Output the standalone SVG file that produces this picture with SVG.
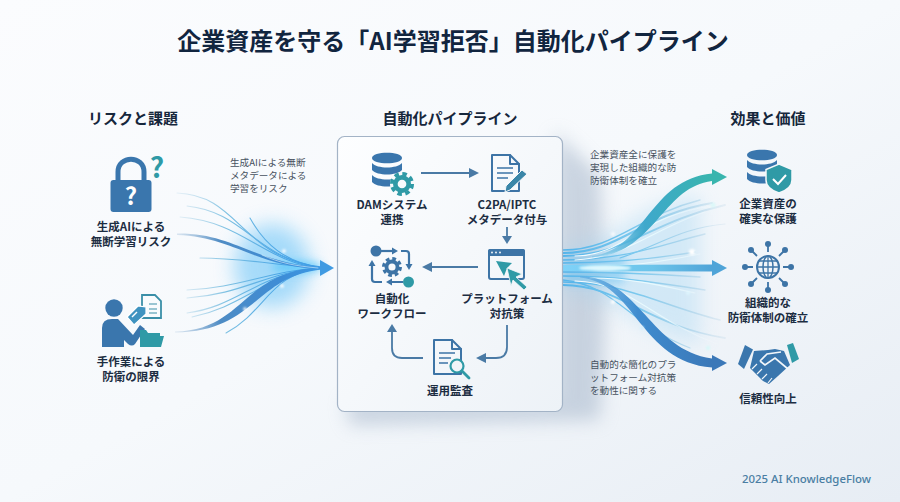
<svg xmlns="http://www.w3.org/2000/svg" width="900" height="502" viewBox="0 0 900 502">
<style>
text{font-family:"Noto Sans CJK JP","Noto Sans",sans-serif}
.t{font-size:24px;font-weight:700;fill:#11253f;text-anchor:middle}
.h{font-size:15px;font-weight:700;fill:#16273c;text-anchor:middle}
.l{font-size:11.5px;font-weight:700;fill:#1c2d42;text-anchor:middle}
.c{font-size:9.6px;font-weight:400;fill:#47525f}
.f{font-size:11.4px;fill:#4a7ea3;text-anchor:end;font-family:"Noto Sans","Open Sans",sans-serif;font-weight:500}
.b{fill:#3a76ad}.g{fill:#2f9aa6}
.ol{fill:none;stroke:#3d74a6;stroke-width:2;stroke-linejoin:round;stroke-linecap:round}
.a{fill:none;stroke:#4a7aa5;stroke-width:1.8}
.a2{fill:none;stroke:#3d74a6;stroke-width:2.200}
.ah{fill:#4a7aa5}
.s{fill:none;stroke-linecap:round}
</style>
<defs>
<linearGradient id="bg" x1="0" y1="0" x2="1" y2="1"><stop offset="0" stop-color="#fbfcfe"/><stop offset=".5" stop-color="#f6f9fc"/><stop offset="1" stop-color="#e7edf4"/></linearGradient>
<linearGradient id="pn" x1="0" y1="0" x2="1" y2="1"><stop offset="0" stop-color="#fdfeff"/><stop offset="1" stop-color="#edf2f7"/></linearGradient>
<linearGradient id="ls" gradientUnits="userSpaceOnUse" x1="175" y1="0" x2="325" y2="0"><stop offset="0" stop-color="#a8cfe4" stop-opacity=".2"/><stop offset=".35" stop-color="#7cc0e2"/><stop offset=".7" stop-color="#4ba6e6"/><stop offset="1" stop-color="#3c9ae6"/></linearGradient>
<linearGradient id="ld" gradientUnits="userSpaceOnUse" x1="175" y1="0" x2="325" y2="0"><stop offset="0" stop-color="#7da6cc" stop-opacity=".2"/><stop offset=".3" stop-color="#4f8cc4"/><stop offset=".7" stop-color="#3d8cd6"/><stop offset="1" stop-color="#3c9ae6"/></linearGradient>
<linearGradient id="rs" gradientUnits="userSpaceOnUse" x1="563" y1="0" x2="730" y2="0"><stop offset="0" stop-color="#54b4ea"/><stop offset=".45" stop-color="#7cc9ee"/><stop offset="1" stop-color="#a8c8de" stop-opacity=".15"/></linearGradient>
<linearGradient id="rw" gradientUnits="userSpaceOnUse" x1="563" y1="0" x2="720" y2="0"><stop offset="0" stop-color="#fff" stop-opacity=".95"/><stop offset=".6" stop-color="#e8fbff" stop-opacity=".9"/><stop offset="1" stop-color="#fff" stop-opacity="0"/></linearGradient>
<linearGradient id="rt" gradientUnits="userSpaceOnUse" x1="590" y1="0" x2="712" y2="0"><stop offset="0" stop-color="#6cc0ec" stop-opacity=".4"/><stop offset=".45" stop-color="#3fa8cc"/><stop offset="1" stop-color="#38b5ae"/></linearGradient>
<linearGradient id="rm" gradientUnits="userSpaceOnUse" x1="563" y1="0" x2="712" y2="0"><stop offset="0" stop-color="#7fd2f8"/><stop offset=".6" stop-color="#6cc4ea"/><stop offset="1" stop-color="#4fa4d8"/></linearGradient>
<linearGradient id="rb" gradientUnits="userSpaceOnUse" x1="563" y1="0" x2="712" y2="0"><stop offset="0" stop-color="#6db9ea" stop-opacity=".6"/><stop offset=".5" stop-color="#3f8ccf"/><stop offset="1" stop-color="#3b78b8"/></linearGradient>
<filter id="b12" x="-60%" y="-60%" width="220%" height="220%"><feGaussianBlur stdDeviation="10"/></filter>
<filter id="b5" x="-30%" y="-100%" width="160%" height="300%"><feGaussianBlur stdDeviation="4"/></filter>
<filter id="b1" x="-200%" y="-200%" width="500%" height="500%"><feGaussianBlur stdDeviation="1.300"/></filter>
<filter id="sh" x="-20%" y="-20%" width="140%" height="140%"><feGaussianBlur stdDeviation="9"/></filter>
<g id="gear"><circle r="4.6" fill="none" stroke="currentColor" stroke-width="3.2"/><circle r="7" fill="none" stroke="currentColor" stroke-width="2.6" stroke-dasharray="3.1 2.4"/></g>
<g id="db"><path class="b" d="M-15-12C-15-19 15-19 15-12C15-5-15-5-15-12Z"/><path class="b" d="M-15-7C-10-1 10-1 15-7V0C10 6-10 6-15 0Z"/><path class="b" d="M-15 5C-10 11 10 11 15 5V12C10 18-10 18-15 12Z"/></g>
</defs>
<rect width="900" height="502" fill="url(#bg)"/>
<text class="t" x="453" y="50">企業資産を守る「AI学習拒否」自動化パイプライン</text>
<text class="h" x="133" y="124">リスクと課題</text>
<text class="h" x="450" y="124">自動化パイプライン</text>
<text class="h" x="768" y="124">効果と価値</text>

<g id="panel-shadow">
<polygon points="555,132 600,175 606,300 600,420 350,425 345,400 555,400" fill="#9fb0c6" opacity=".5" filter="url(#sh)"/>
</g>
<g id="connectors">
<g id="flow-left">
<ellipse cx="272" cy="266" rx="38" ry="42" fill="#70c6f8" opacity=".6" filter="url(#b12)"/>
<ellipse cx="297" cy="267" rx="26" ry="6" fill="#4fc4fa" opacity=".75" filter="url(#b5)"/>
<g class="s" stroke="url(#ls)" stroke-width="1.100">
<path d="M177 193C240 195 240 258 322 267"/>
<path d="M187 206C245 212 255 258 322 268"/>
<path d="M180 217C245 222 262 262 322 268"/>
<path d="M200 258C245 258 280 266 322 268"/>
<path d="M187 290C240 288 270 270 322 268"/>
<path d="M187 298C245 294 265 272 322 268"/>
<path d="M187 313C240 306 255 274 322 268"/>
<path d="M192 317C245 306 262 276 322 268"/>
<path d="M226 333C268 310 268 274 322 268"/>
<path d="M250 218C265 245 285 262 322 268"/>
</g>
<path d="M177 233.500C235 233 250 262 322 267.500L322 269C255 267 235 237 177 235Z" fill="url(#ld)"/>
<path d="M175 331.500C245 330 240 272 322 267L322 269.500C255 276 255 332 175 332.500Z" fill="url(#ld)"/>
<path class="s" stroke="#eafaff" stroke-opacity=".7" stroke-width=".8" d="M262 255C280 263 295 266 318 268"/>
<polygon points="320,260 334,268 320,276" fill="#3f9ae2"/>
<circle cx="284" cy="251" r="1.800" fill="#fff" filter="url(#b1)"/><circle cx="282" cy="286" r="1.800" fill="#fff" filter="url(#b1)"/><circle cx="245" cy="309" r="1.800" fill="#fff" filter="url(#b1)"/>
</g>
<g id="flow-right">
<path d="M563 246C620 246 625 205 700 195L700 345C625 330 620 292 563 292Z" fill="#a4d6f3" opacity=".4" filter="url(#b12)"/>
<rect x="563" y="256" width="62" height="28" fill="#62c0f2" opacity=".45" filter="url(#b5)"/>
<g class="s" stroke="url(#rs)">
<path stroke-width="1.500" d="M563 250C615 250 640 215 700 200"/>
<path stroke-width="2" d="M563 253C620 253 640 215 712 203"/>
<path stroke-width="2" d="M563 256C625 256 650 222 725 205"/>
<path stroke-width="1.200" d="M620 258C660 245 680 228 725 224"/>
<path stroke-width="1.400" d="M563 260C625 260 660 245 705 234"/>
<path stroke-width="1.300" d="M563 263C620 263 660 258 695 252"/>
<path stroke-width="1.500" d="M563 272C620 272 670 275 700 277"/>
<path stroke-width="1.500" d="M563 276C625 276 670 285 705 290"/>
<path stroke-width="1.500" d="M563 282C625 282 660 305 720 320"/>
<path stroke-width="1.800" d="M563 285C620 285 645 325 725 338"/>
<path stroke-width="1.300" d="M563 280C615 285 630 325 690 348"/>
</g>
<g class="s" stroke="url(#rw)" stroke-width="1.100">
<path d="M575 256C625 256 640 215 712 206"/>
<path d="M575 260C625 258 655 228 705 212"/>
<path d="M575 267C630 267 660 262 700 254"/>
<path d="M575 281C630 282 650 320 720 345"/>
<path d="M590 278C630 278 660 285 695 293"/>
</g>
<path d="M592 256C645 250 650 179 712 173.500L712 181C662 187 655 254 592 257.500Z" fill="url(#rt)"/>
<polygon points="712,169 727,177 712,185" fill="#38b5ae"/>
<path d="M563 265L712 264.500V271.500L563 271Z" fill="url(#rm)"/>
<ellipse cx="605" cy="268" rx="26" ry="3" fill="#e8fcff" opacity=".9" filter="url(#b1)"/>
<polygon points="712,260 727,268 712,276" fill="#4fa4d8"/>
<path d="M580 276C640 278 650 350 712 358.500L712 367.500C640 362 635 282 580 277.500Z" fill="url(#rb)"/>
<polygon points="712,355 727,363 712,371" fill="#3b78b8"/>
<circle cx="713" cy="205" r="2.600" fill="#d8f8f8" opacity=".9" filter="url(#b1)"/><circle cx="692" cy="252" r="3" fill="#fff" filter="url(#b1)"/><circle cx="613" cy="234" r="2" fill="#fff" opacity=".8" filter="url(#b1)"/><circle cx="613" cy="302" r="2" fill="#fff" filter="url(#b1)"/><circle cx="688" cy="293" r="1.800" fill="#e0f8ff" filter="url(#b1)"/><circle cx="642" cy="328" r="1.800" fill="#d0f0ff" filter="url(#b1)"/><circle cx="708" cy="348" r="2.200" fill="#d8f8f8" filter="url(#b1)"/>
</g>
</g>

<g id="panel">
<rect x="337.500" y="136.500" width="225" height="275" rx="7" fill="url(#pn)" stroke="#a3b3c6" stroke-width="1.200"/>
</g>
<g id="panel-arrows">
<path class="a" d="M421 173H472"/><polygon class="ah" points="469,168 479,173 469,178"/>
<path class="a" d="M507 227V238"/><polygon class="ah" points="502,236 507,244 512,236"/>
<path class="a" d="M478 267H430"/><polygon class="ah" points="432,262 422,267 432,272"/>
<path class="a" d="M507 325V347Q507 358 496 358H484"/><polygon class="ah" points="486,353 476,358 486,363"/>
<path class="a" d="M423 358H402Q392 358 392 348V330"/><polygon class="ah" points="387,332 392,324 397,332"/>
</g>

<g id="node-risk-ai">
<path d="M118 182V172C118 155 144 155 144 172V182" fill="none" stroke="#3a76ad" stroke-width="5"/>
<rect x="110.500" y="180" width="41" height="32" rx="3" class="b"/>
<text x="131" y="205" font-size="24" font-weight="700" fill="#fff" text-anchor="middle">?</text>
<text x="157" y="178" font-size="28" font-weight="700" fill="#2f9aa6" text-anchor="middle">?</text>
<text class="l" x="131" y="231">生成AIによる</text><text class="l" x="131" y="246">無断学習リスク</text>
</g>
<g id="node-risk-manual">
<circle cx="114" cy="308" r="8.700" class="b"/>
<path class="b" d="M102 347V328Q102 319 112 319H118L133 335L140 325L145 329L135 344Q132 347 128 344L124 340V347Z"/>
<path d="M142 295H155L161 301V318H142Z" fill="#f8fbfd" stroke="#3a8fa8" stroke-width="1.800"/><path d="M149 304H157M149 309H157M149 313H157" stroke="#3a8fa8" stroke-width="1.200"/>
<polygon points="127,317 138,306 146,307 146,314 134,325" fill="#3f93c0" stroke="#fff" stroke-width="1.200"/>
<path d="M132 317L137 312" stroke="#fff" stroke-width="1.500"/>
<path class="g" d="M140 330H146L148 333H160V336H164L161 347H140Z"/>
<text class="l" x="131" y="366">手作業による</text><text class="l" x="131" y="381">防衛の限界</text>
</g>
<text class="c"><tspan x="230" y="166">生成AIによる無断</tspan><tspan x="230" y="179">メタデータによる</tspan><tspan x="230" y="192">学習をリスク</tspan></text>

<g id="node-dam">
<use href="#db" x="387" y="170"/>
<circle cx="402" cy="184" r="12" fill="#f7fafc"/>
<g color="#2f9aa6" transform="translate(402 184) scale(1.450)"><use href="#gear"/></g>
<text class="l" x="392" y="209">DAMシステム</text><text class="l" x="392" y="224">連携</text>
</g>
<g id="node-c2pa">
<path class="ol" d="M492 155H510L519 164V191H492Z"/><path class="ol" d="M510 155V164H519" stroke-width="1.500"/>
<path d="M497 168H513M497 173H513M497 178H508" stroke="#3d74a6" stroke-width="1.500"/>
<path d="M506 186L522 170L527 174L510 190L505 192Z" fill="#3a86a8" stroke="#f4f7fa" stroke-width="1"/>
<text class="l" x="507" y="209">C2PA/IPTC</text><text class="l" x="507" y="224">メタデータ付与</text>
</g>
<g id="node-platform">
<rect x="489" y="250" width="35" height="29" rx="2" fill="none" stroke="#3d74a6" stroke-width="2"/><rect x="488" y="249" width="37" height="7" rx="2" fill="#3d74a6"/>
<circle cx="492" cy="252.500" r=".9" fill="#fff"/><circle cx="496" cy="252.500" r=".9" fill="#fff"/><circle cx="500" cy="252.500" r=".9" fill="#fff"/>
<path class="g" d="M496 261L512 263L507 268L504 276Z"/>
<path class="g" d="M507 268L522 274L516 277L527 287L524 290L513 280L511 286Z" stroke="#f4f7fa" stroke-width=".8"/>
<text class="l" x="507" y="303">プラットフォーム</text><text class="l" x="507" y="318">対抗策</text>
</g>
<g id="node-workflow">
<circle cx="376" cy="251" r="5.500" fill="#3d74a6"/><circle cx="408.500" cy="282" r="5.500" class="g"/>
<path class="a2" d="M381 251H394"/><path class="a2" d="M372 264V279Q372 282 375 282H382M403 282H390M401 251H406Q409 251 409 254V266"/>
<polygon points="392,247.500 398,251 392,254.500" fill="#3d74a6"/><polygon points="405.500,264 409,270 412.500,264" fill="#3d74a6"/><polygon points="368.500,266 372,260 375.500,266" fill="#3d74a6"/><polygon points="392,278.500 386,282 392,285.500" fill="#3d74a6"/>
<g color="#3d74a6" transform="translate(392 267) scale(1.200)"><use href="#gear"/></g>
<text class="l" x="392" y="303">自動化</text><text class="l" x="392" y="318">ワークフロー</text>
</g>
<g id="node-audit">
<path class="ol" d="M434 340H452L461 349V374H434Z"/><path class="ol" d="M452 340V349H461" stroke-width="1.500"/>
<path d="M439 353H455M439 358H451M439 363H448" stroke="#3d74a6" stroke-width="1.500"/>
<circle cx="457" cy="366" r="6.500" fill="#f0f4f8" stroke="#2f9aa6" stroke-width="2.200"/><path d="M462 371L469 378" stroke="#2f9aa6" stroke-width="2.800" stroke-linecap="round"/>
<text class="l" x="450" y="395">運用監査</text>
</g>

<g id="node-protect">
<use href="#db" x="762" y="167"/>
<path class="g" d="M779 164L792 169.500V180C792 187 785 191 779 193C773 191 766 187 766 180V169.500Z" stroke="#f4f7fa" stroke-width="1.500"/>
<path d="M773 179L778 184L786 175" fill="none" stroke="#fff" stroke-width="2"/>
<text class="l" x="768" y="208">企業資産の</text><text class="l" x="768" y="223">確実な保護</text>
</g>
<g id="node-org">
<circle cx="768" cy="267" r="11" fill="none" stroke="#3d74a6" stroke-width="2"/><ellipse cx="768" cy="267" rx="5" ry="11" fill="none" stroke="#3d74a6" stroke-width="1.500"/><path d="M757 267H779M759 261H777M759 273H777M768 256V278" stroke="#3d74a6" stroke-width="1.300"/>
<g stroke="#3d74a6" stroke-width="1.800"><path d="M768 252V246M768 282V288M753 267H747M783 267H789M757 256L752 251M779 256L784 251M757 278L752 283M779 278L784 283"/></g>
<g fill="#3d74a6"><circle cx="768" cy="244" r="3"/><circle cx="768" cy="290" r="3"/><circle cx="745" cy="267" r="3"/><circle cx="791" cy="267" r="3"/><circle cx="751" cy="250" r="3"/><circle cx="785" cy="250" r="3"/><circle cx="751" cy="284" r="3"/><circle cx="785" cy="284" r="3"/></g>
<text class="l" x="768" y="307">組織的な</text><text class="l" x="768" y="322">防衛体制の確立</text>
</g>
<g id="node-trust">
<polygon class="b" points="745,345 753,349.500 744,369 738,364"/>
<polygon class="g" points="787,345 793,343 799,359 792,363"/>
<path class="b" d="M754 351L768 350L775 349L784 351L790 365L778 376L769 384L763 381L750 368Z"/>
<path d="M760 361L767 354L781 352M760 361L765 365L775 358L788 369" fill="none" stroke="#f2f6fa" stroke-width="1.700"/>
<path d="M752 369L757 364M757 374L762 369M762 379L767 374M768 383L772 378" stroke="#f2f6fa" stroke-width="1.200"/>
<text class="l" x="768" y="403">信頼性向上</text>
</g>
<text class="c"><tspan x="590" y="158">企業資産全に保護を</tspan><tspan x="590" y="171">実現した組織的な防</tspan><tspan x="590" y="184">防衛体制を確立</tspan></text>
<text class="c"><tspan x="590" y="368">自動的な簡化のプラ</tspan><tspan x="590" y="381">ットフォーム対抗策</tspan><tspan x="590" y="394">を動性に関する</tspan></text>
<text class="f" x="871" y="483">2025 AI KnowledgeFlow</text>
</svg>
